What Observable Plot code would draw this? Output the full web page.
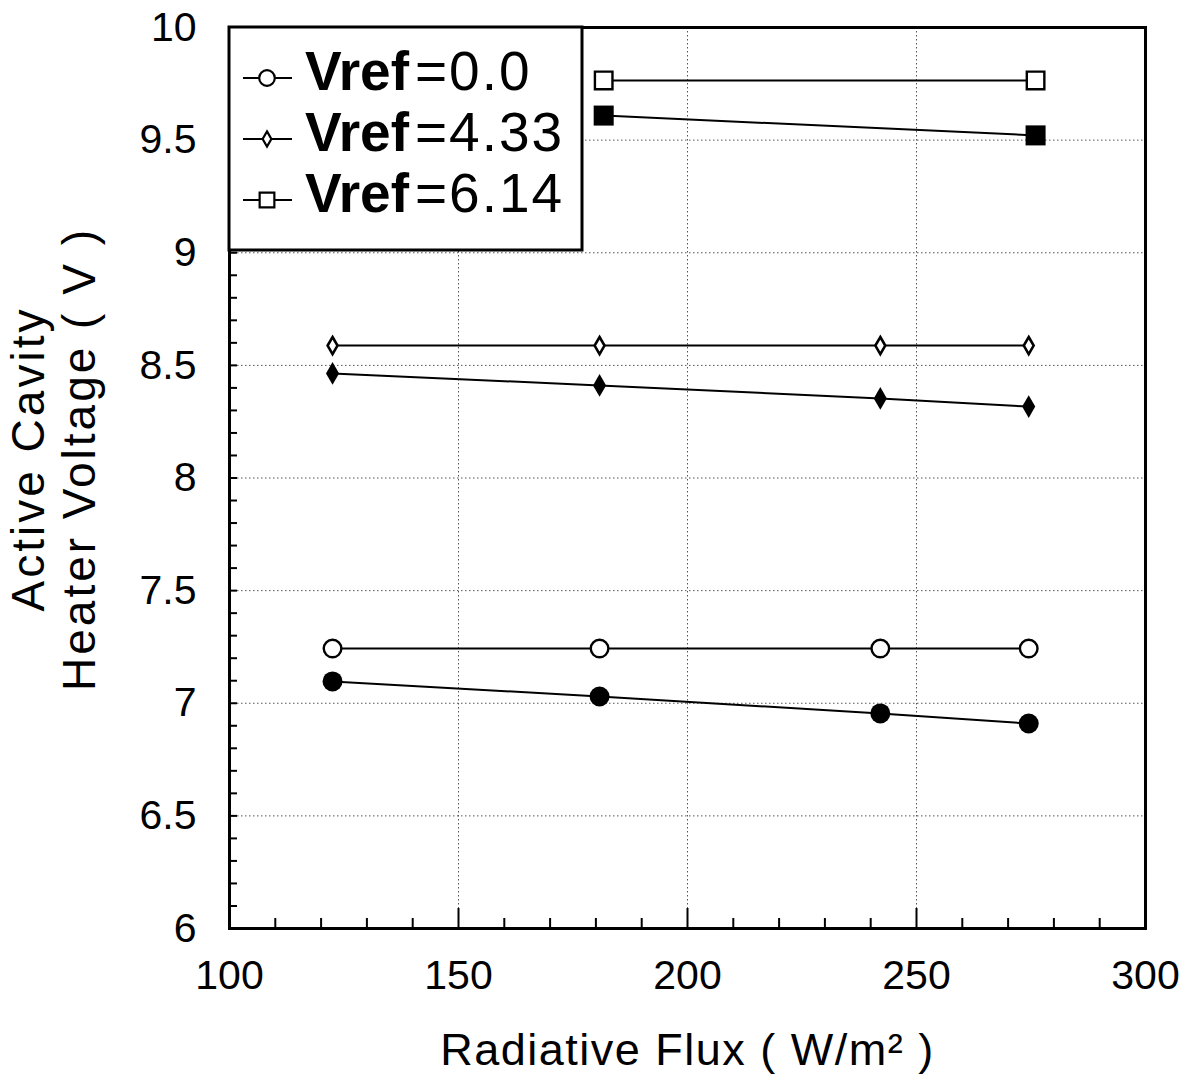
<!DOCTYPE html>
<html><head><meta charset="utf-8">
<script src="https://cdn.jsdelivr.net/npm/d3@7"></script>
<script src="https://cdn.jsdelivr.net/npm/@observablehq/plot@0.6"></script>
<style>body{margin:0;background:#fff}</style>
</head><body><div id="chart"></div>
<script>
// ---- data ----
const vrefLabels = ["0.0", "4.33", "6.14"];
const legendSymbols = ["circle", "diamond", "square"];
const fluxCD = [122.5, 180.8, 242.1, 274.5];   // W/m^2 (circles & diamonds)
const fluxSq = [181.7, 276.0];                 // W/m^2 (squares)
const openV0 = [7.243, 7.243, 7.243, 7.243];
const filledV0 = [7.097, 7.030, 6.955, 6.910];
const openV433 = [8.588, 8.588, 8.588, 8.588];
const filledV433 = [8.464, 8.411, 8.353, 8.317];
const openV614 = [9.765, 9.765];
const filledV614 = [9.609, 9.521];
const xMajor = [100, 150, 200, 250, 300];
const yMajor = [6, 6.5, 7, 7.5, 8, 8.5, 9, 9.5, 10];
const xTitle = "Radiative Flux ( W/m\u00B2 )";
const yTitle1 = "Active Cavity";
const yTitle2 = "Heater Voltage ( V )";

const pts = (xs, ys, id) => xs.map((x, i) => ({x, y: ys[i], id}));
const cOpen = pts(fluxCD, openV0, "c0"), cFill = pts(fluxCD, filledV0, "c1");
const dOpen = pts(fluxCD, openV433, "d0"), dFill = pts(fluxCD, filledV433, "d1");
const sOpen = pts(fluxSq, openV614, "s0"), sFill = pts(fluxSq, filledV614, "s1");
const all = [...cOpen, ...cFill, ...dOpen, ...dFill, ...sOpen, ...sFill];

const xMinor = d3.range(110, 300, 10).filter(v => v % 50 !== 0);
const xMid = xMajor.slice(1, -1);
const yMinor = d3.range(61, 100).map(v => v / 10);
const gridYv = yMajor.slice(1, -1);

const FONT = "'Liberation Sans', Arial, Helvetica, sans-serif";

const plot = Plot.plot({
  width: 1194, height: 1082,
  marginLeft: 229, marginRight: 49, marginTop: 27, marginBottom: 154,
  style: {fontFamily: FONT, fontSize: "38px", background: "white", color: "black"},
  x: {domain: [100, 300], label: null},
  y: {domain: [6, 10], label: null},
  marks: [
    Plot.gridX(xMid, {stroke: "#555", strokeOpacity: 1, strokeDasharray: "1.5,2.5", strokeWidth: 1}),
    Plot.gridY(gridYv, {stroke: "#555", strokeOpacity: 1, strokeDasharray: "1.5,2.5", strokeWidth: 1}),
    Plot.axisX(xMinor, {tickSize: -10, fill: "none", strokeWidth: 2, label: null}),
    Plot.axisX(xMid, {tickSize: -20, fill: "none", strokeWidth: 2, label: null}),
    Plot.axisX(xMajor, {tickSize: 0, tickPadding: 31, fontSize: 41, label: null}),
    Plot.axisY(yMinor, {tickSize: -8, fill: "none", strokeWidth: 2, label: null}),
    Plot.axisY(yMajor, {tickSize: 0, tickPadding: 33, fontSize: 41, label: null, tickFormat: d => String(d)}),
    Plot.frame({stroke: "black", strokeWidth: 3}),
    Plot.line(all, {x: "x", y: "y", z: "id", stroke: "black", strokeWidth: 2}),
    Plot.dot(cOpen, {x: "x", y: "y", symbol: "circle", r: 8.8, fill: "white", stroke: "black", strokeWidth: 2.4}),
    Plot.dot(cFill, {x: "x", y: "y", symbol: "circle", r: 10, fill: "black", stroke: "none"}),
    Plot.dot(dOpen, {x: "x", y: "y", symbol: "diamond", r: 5.2, fill: "white", stroke: "black", strokeWidth: 2.6}),
    Plot.dot(dFill, {x: "x", y: "y", symbol: "diamond", r: 6.9, fill: "black", stroke: "none"}),
    Plot.dot(sOpen, {x: "x", y: "y", symbol: "square", r: 9.9, fill: "white", stroke: "black", strokeWidth: 2.4}),
    Plot.dot(sFill, {x: "x", y: "y", symbol: "square", r: 11.3, fill: "black", stroke: "none"}),
    Plot.text([xTitle], {frameAnchor: "bottom", textAnchor: "middle", lineAnchor: "middle", dy: 122, fontSize: 45, fill: "black"}),
    Plot.text([yTitle1], {frameAnchor: "left", textAnchor: "middle", lineAnchor: "middle", dx: -200, dy: -19, rotate: -90, fontSize: 46, fill: "black"}),
    Plot.text([yTitle2], {frameAnchor: "left", textAnchor: "middle", lineAnchor: "middle", dx: -149, dy: -19, rotate: -90, fontSize: 46, fill: "black"})
  ]
});
document.getElementById("chart").appendChild(plot);

const svg = d3.select(plot);
// wider tracking for the axis titles, as in the reference typeface
svg.selectAll("text").filter(function () { return this.textContent === yTitle1 || this.textContent === yTitle2; })
  .attr("letter-spacing", 3);
svg.selectAll("text").filter(function () { return this.textContent === xTitle; })
  .attr("letter-spacing", 1.5);

// ---- legend (inside the plot, top-left) ----
const lg = svg.append("g").attr("transform", "translate(229,27)");
lg.append("rect").attr("x", 0).attr("y", 0).attr("width", 353).attr("height", 223)
  .attr("fill", "white").attr("stroke", "black").attr("stroke-width", 3);
const symMap = {circle: d3.symbolCircle, diamond: d3.symbolDiamond, square: d3.symbolSquare};
const symR = {circle: 7.8, diamond: 4.6, square: 8.3};
vrefLabels.forEach((lab, i) => {
  const cy = 51 + i * 61;
  const by = 63 + i * 61;
  lg.append("line").attr("x1", 14).attr("x2", 63).attr("y1", cy).attr("y2", cy)
    .attr("stroke", "black").attr("stroke-width", 2);
  const s = legendSymbols[i];
  lg.append("path").attr("d", d3.symbol(symMap[s], Math.PI * symR[s] * symR[s])())
    .attr("transform", `translate(38,${cy})`)
    .attr("fill", "white").attr("stroke", "black").attr("stroke-width", 2.2);
  const t = lg.append("text").attr("x", 76).attr("y", by).attr("text-anchor", "start")
    .attr("font-family", FONT).attr("font-size", 55).attr("fill", "black");
  t.append("tspan").attr("font-weight", "bold").text("Vref");
  t.append("tspan").attr("dx", 6).attr("letter-spacing", 2).text("=" + lab);
});
</script>
</body></html>
